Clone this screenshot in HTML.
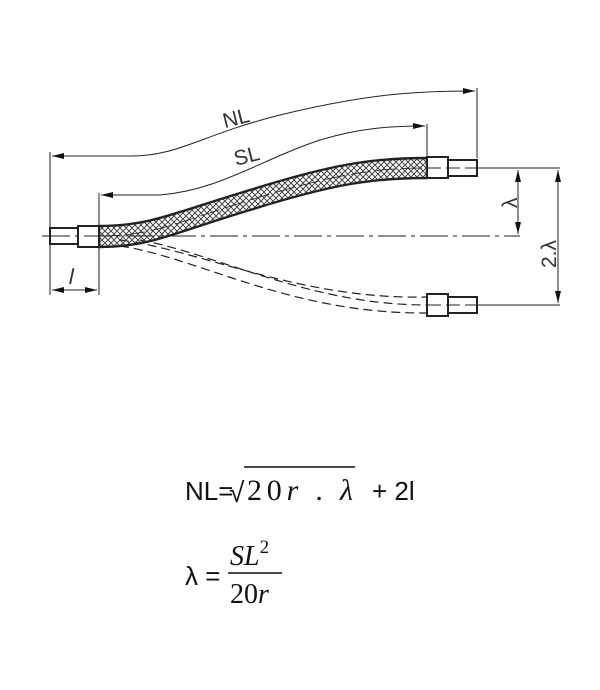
<!DOCTYPE html>
<html><head><style>
body{margin:0;background:#fff;width:600px;height:685px;overflow:hidden}
</style></head><body>
<svg width="600" height="685" viewBox="0 0 600 685" xmlns="http://www.w3.org/2000/svg">
<defs>
<pattern id="x" width="6" height="6" patternUnits="userSpaceOnUse">
<path d="M0 0L6 6M6 0L0 6" stroke="#444" stroke-width="1"/>
</pattern>
<marker id="a" markerWidth="12" markerHeight="6" refX="12" refY="3" orient="auto" markerUnits="userSpaceOnUse"><path d="M0 0L12 3L0 6z" fill="#111"/></marker>
</defs>
<g fill="none" stroke="#222" stroke-width="1.2">
<path d="M478 168H560M478 305H560" stroke-width="1"/>
<path d="M120 240C200 250 300 300 427 297" stroke-dasharray="9 5"/>
<path d="M140 240C220 255 310 305 427 305" stroke-dasharray="9 5"/>
<path d="M120 246C200 258 290 314 427 313" stroke-dasharray="9 5"/>
<path d="M99 226C150 226 170 214 250 190C330 165 370 158 427 158L427 178C370 178 330 185 250 210C170 234 150 247 99 247Z" fill="url(#x)" stroke-width="2.4"/>
<path d="M99 236C150 236 170 225 250 200C330 176 370 168 427 168" stroke-dasharray="20 6" stroke-width="0.8"/>
<rect x="50" y="228" width="28" height="16" fill="#fff" stroke-width="2"/>
<rect x="78" y="226" width="21" height="21" fill="#fff" stroke-width="2"/>
<rect x="427" y="157" width="21" height="21" fill="#fff" stroke-width="2"/>
<rect x="448" y="160" width="29" height="16" fill="#fff" stroke-width="2"/>
<rect x="427" y="294" width="21" height="22" fill="#fff" stroke-width="2"/>
<rect x="448" y="297" width="29" height="16" fill="#fff" stroke-width="2"/>
<path d="M42 236H520" stroke-dasharray="28 5 4 5" stroke-width="1"/>
<path d="M427 168H520M427 305H520" stroke-dasharray="14 5" stroke-width="1"/>
<g stroke-width="1">
<path d="M50 152V295M99 193V295M477 88V158M427 124V157"/>
<path d="M75 290H52" marker-end="url(#a)"/><path d="M75 290H97" marker-end="url(#a)"/>
<path d="M130 156H52" marker-end="url(#a)"/>
<path d="M130 156C180 156 200 135 280 115C370 93 420 91 475 91" marker-end="url(#a)"/>
<path d="M160 195H101" marker-end="url(#a)"/>
<path d="M160 195C220 190 260 160 320 140C360 128 390 126 425 126" marker-end="url(#a)"/>
<path d="M518 200V170" marker-end="url(#a)"/><path d="M518 200V234" marker-end="url(#a)"/>
<path d="M558 240V170" marker-end="url(#a)"/><path d="M558 240V303" marker-end="url(#a)"/>
</g>
</g>
<g font-family="Liberation Sans, sans-serif" fill="#333" font-size="21">
<text x="222" y="124" transform="rotate(-14 240 115)">NL</text>
<text x="233" y="162" transform="rotate(-14 250 152)">SL</text>
<text x="128" y="284" transform="skewX(-12)" font-size="22">l</text>
<text x="0" y="0" transform="translate(517 208) rotate(-90)">λ</text>
<text x="0" y="0" transform="translate(556 268) rotate(-90)">2.λ</text>
</g>
<g font-family="Liberation Sans, sans-serif" fill="#111" font-size="26">
<text x="185" y="500">NL=</text>
<text x="229" y="502" font-size="28">√</text>
<path d="M244 467H355" stroke="#111" stroke-width="1.4"/>
<text x="247" y="500" font-family="Liberation Serif, serif" font-size="30" textLength="106" lengthAdjust="spacing">20<tspan font-style="italic">r</tspan> . <tspan font-style="italic">λ</tspan></text>
<text x="372" y="500">+ 2l</text>
<text x="185" y="585">λ =</text>
<text x="230" y="565" font-family="Liberation Serif, serif" font-style="italic" font-size="28">SL<tspan font-size="19" dy="-12" font-style="normal">2</tspan></text>
<path d="M228 573H282" stroke="#111" stroke-width="1.4"/>
<text x="230" y="603" font-family="Liberation Serif, serif" font-size="28">20<tspan font-style="italic">r</tspan></text>
</g>
</svg>
</body></html>
